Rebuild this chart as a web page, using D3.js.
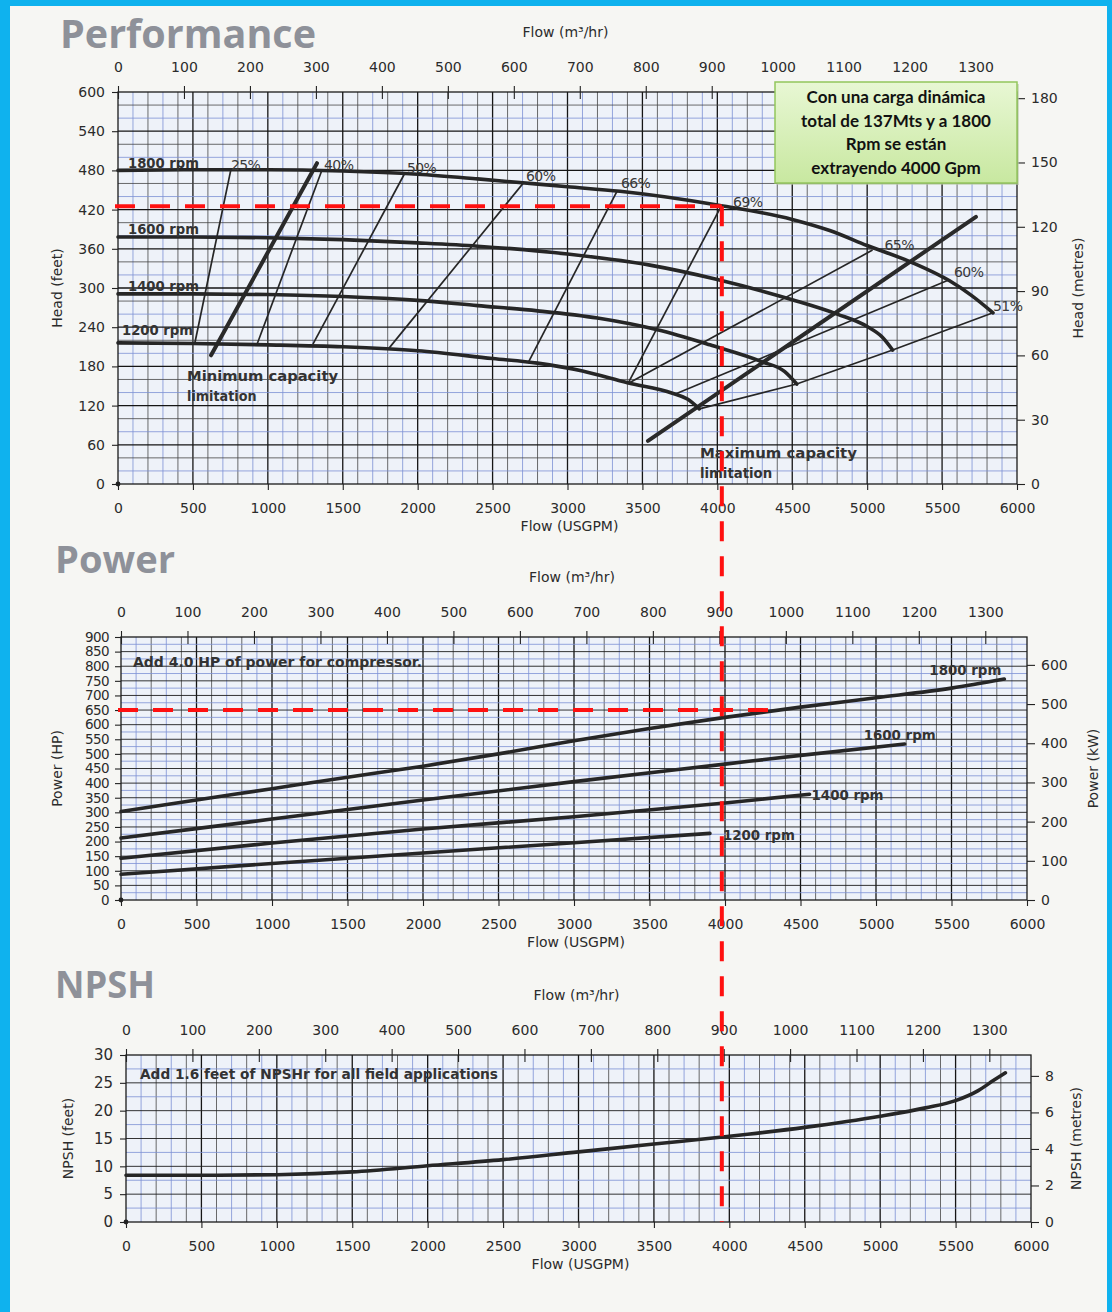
<!DOCTYPE html>
<html>
<head>
<meta charset="utf-8">
<script src="https://cdn.jsdelivr.net/npm/d3@7"></script>
<style>
body { margin: 0; background: #f6f6f3; }
svg { display: block; }
text { font-family: "DejaVu Sans", sans-serif; fill: #2b2b2b; }
.tick text { font-size: 14px; fill: #2b2b2b; }
.title { font-family: "Open Sans", sans-serif; font-weight: 700; fill: #8e9199; }
.axis-title { font-size: 14px; }
.note { font-weight: 700; font-size: 14px; fill: #333; }
.eff { font-size: 14px; fill: #3a3a3a; letter-spacing: -0.6px; }
.box text { font-family: Lato, sans-serif; font-weight: 700; font-size: 17px; fill: #111; }
</style>
</head>
<body>
<svg id="chart" width="1112" height="1312"></svg>
<script>
// ---- data (flow in USGPM, head / NPSH in feet, power in HP) ----
const gpmTicks = d3.range(0, 6001, 500);
const m3hTicks = d3.range(0, 1301, 100);
const headTicks = d3.range(0, 601, 60);
const headMetreTicks = [0, 30, 60, 90, 120, 150, 180];
const powerTicks = d3.range(0, 901, 50);
const kwTicks = [0, 100, 200, 300, 400, 500, 600];
const npshTicks = [0, 5, 10, 15, 20, 25, 30];
const npshMetreTicks = [0, 2, 4, 6, 8];

const rpmNames = ["1800 rpm", "1600 rpm", "1400 rpm", "1200 rpm"];

const head1800 = [[0,480],[500,481],[1000,481],[1500,479],[2000,474],[2400,467],[3000,455],[3350,448],[4000,427],[4500,405],[4750,388],[5000,365],[5300,339],[5550,311],[5700,288],[5840,262]];
const head1600 = [[0,378],[500,378],[1000,377],[1500,374],[2000,369],[2400,364],[3000,352],[3550,335],[4000,313],[4500,282],[4800,260],[5000,241],[5100,225],[5170,205]];
const head1400 = [[0,291],[500,291],[1000,290],[1500,287],[2000,281],[2400,273],[2800,265],[3200,254],[3600,236],[3950,213],[4300,187],[4450,172],[4530,153]];
const head1200 = [[0,216],[500,215],[1000,213],[1500,210],[2000,204],[2500,192],[2800,185],[3100,173],[3400,155],[3700,139],[3800,130],[3880,115]];

const effLabels = ["25%", "40%", "50%", "60%", "66%", "69%", "65%", "60%", "51%"];
const effLines = [
  [[514,217],[754,482]],
  [[928,214],[1362,481]],
  [[1301,214],[1915,476]],
  [[1809,208],[2710,462]],
  [[2736,185],[3330,448]],
  [[3404,154],[4025,425]],
  [[3404,154],[5036,358]],
  [[3724,138],[5540,312]],
  [[3880,115],[4530,153],[5170,205],[5840,262]]
];
const minCapacity = [[621,197],[1328,491]];
const maxCapacity = [[3537,66],[5726,409]];

const power1800 = [[0,303],[500,342],[1000,381],[1500,420],[2000,458],[2500,500],[3000,545],[3500,587],[4000,625],[4500,660],[5000,692],[5500,725],[5850,756]];
const power1600 = [[0,212],[1000,277],[2000,342],[3000,405],[4000,465],[4500,495],[5190,534]];
const power1400 = [[0,143],[1000,195],[2000,243],[3000,285],[4000,332],[4560,362]];
const power1200 = [[0,88],[1000,125],[2000,161],[3000,196],[3900,228]];

const npshCurve = [[0,8.4],[500,8.4],[1000,8.5],[1500,9.0],[2000,10.1],[2500,11.2],[3000,12.6],[3500,14.0],[4000,15.4],[4500,17.0],[5000,19.0],[5300,20.5],[5500,21.8],[5650,23.6],[5750,25.4],[5830,26.8]];

// operating point marked in red
const opFlow = 4030, opHead = 425, opPower = 650, opPowerEnd = 4320;

const boxLines = ["Con una carga dinámica", "total de 137Mts y a 1800", "Rpm se están", "extrayendo 4000 Gpm"];

const GPM_TO_M3H = 0.227125, FT_TO_M = 0.3048, HP_TO_KW = 0.7457;

const svg = d3.select("#chart");

// cyan frame
svg.append("rect").attr("x", 0).attr("y", 0).attr("width", 10).attr("height", 1312).attr("fill", "#0fb2ee");
svg.append("rect").attr("x", 0).attr("y", 0).attr("width", 1112).attr("height", 6).attr("fill", "#0fb2ee");
svg.append("rect").attr("x", 1107).attr("y", 0).attr("width", 5).attr("height", 1312).attr("fill", "#0fb2ee");

function panel(p) {
  const x = d3.scaleLinear().domain([0, 6000]).range([p.left, p.right]);
  const y = d3.scaleLinear().domain([0, p.yMax]).range([p.bottom, p.top]);
  const g = svg.append("g");

  g.append("rect")
    .attr("x", p.left).attr("y", p.top)
    .attr("width", p.right - p.left).attr("height", p.bottom - p.top)
    .attr("fill", "#eef2f9");

  // graph paper
  g.selectAll(null).data(d3.range(100, 6000, 100)).enter().append("line")
    .attr("x1", d => x(d)).attr("x2", d => x(d))
    .attr("y1", p.top).attr("y2", p.bottom)
    .attr("stroke", d => d % 500 === 0 ? "#151515" : (d / 100) % 2 ? "#7c90d4" : "#454545")
    .attr("stroke-width", d => d % 500 === 0 ? 1.3 : 0.8);

  g.selectAll(null).data(d3.range(p.step, p.yMax, p.step)).enter().append("line")
    .attr("x1", p.left).attr("x2", p.right)
    .attr("y1", d => y(d)).attr("y2", d => y(d))
    .attr("stroke", d => p.lineColor(d))
    .attr("stroke-width", d => p.lineWidth(d));

  g.append("rect")
    .attr("x", p.left).attr("y", p.top)
    .attr("width", p.right - p.left).attr("height", p.bottom - p.top)
    .attr("fill", "none").attr("stroke", "#1a1a1a").attr("stroke-width", 1.3);

  const fmt = d3.format("d");
  // bottom axis (USGPM)
  const ax = g.append("g").attr("transform", `translate(0,${p.bottom})`)
    .call(d3.axisBottom(x).tickValues(gpmTicks).tickFormat(fmt).tickSize(6).tickPadding(13));
  // top axis (m3/hr)
  const xm = d3.scaleLinear().domain([0, 6000 * GPM_TO_M3H]).range([p.left, p.right]);
  const at = g.append("g").attr("transform", `translate(0,${p.top})`)
    .call(d3.axisTop(xm).tickValues(m3hTicks).tickFormat(fmt).tickSize(6).tickPadding(14));
  at.selectAll(".tick line").attr("y1", 7).attr("y2", -6);
  // left axis
  const al = g.append("g").attr("transform", `translate(${p.left},0)`)
    .call(d3.axisLeft(y).tickValues(p.ticks).tickFormat(fmt).tickSize(6).tickPadding(p.leftPad));
  // right axis (metric)
  const yr = d3.scaleLinear().domain([0, p.yMax * p.toMetric]).range([p.bottom, p.top]);
  const ar = g.append("g").attr("transform", `translate(${p.right},0)`)
    .call(d3.axisRight(yr).tickValues(p.rightTicks).tickFormat(fmt).tickSize(8).tickPadding(6));

  [ax, at, al, ar].forEach(a => {
    a.select(".domain").remove();
    a.selectAll(".tick line").attr("stroke", "#222").attr("stroke-width", 1.1);
    a.attr("font-family", null).attr("font-size", null);
  });
  if (p.leftLabelStyle) p.leftLabelStyle(al.selectAll(".tick text"));

  g.append("circle").attr("cx", p.left).attr("cy", p.bottom).attr("r", 2.4).attr("fill", "#222");

  // titles
  g.append("text").attr("class", "title")
    .attr("x", p.titleX).attr("y", p.titleY)
    .attr("font-size", p.titleSize)
    .attr("textLength", p.titleWidth).attr("lengthAdjust", "spacingAndGlyphs")
    .text(p.title);
  g.append("text").attr("class", "axis-title").attr("text-anchor", "middle")
    .attr("x", (p.left + p.right) / 2 - 2).attr("y", p.top - 55)
    .text("Flow (m³/hr)");
  g.append("text").attr("class", "axis-title").attr("text-anchor", "middle")
    .attr("x", (p.left + p.right) / 2 + 2).attr("y", p.bottom + 47)
    .text("Flow (USGPM)");
  g.append("text").attr("class", "axis-title").attr("text-anchor", "middle")
    .attr("transform", `translate(${p.leftTitleX},${(p.top + p.bottom) / 2}) rotate(-90)`)
    .text(p.leftTitle);
  g.append("text").attr("class", "axis-title").attr("text-anchor", "middle")
    .attr("transform", `translate(${p.rightTitleX},${(p.top + p.bottom) / 2}) rotate(-90)`)
    .text(p.rightTitle);

  return { x, y, g };
}

// ---------------- Performance ----------------
const perf = panel({
  left: 118, right: 1017, top: 92, bottom: 484, yMax: 600, step: 20,
  lineColor: d => d % 60 === 0 ? "#151515" : d % 60 === 20 ? "#7c90d4" : "#454545",
  lineWidth: d => d % 60 === 0 ? 1.3 : 0.8,
  ticks: headTicks, leftPad: 7, toMetric: FT_TO_M, rightTicks: headMetreTicks,
  title: "Performance", titleX: 60, titleY: 48, titleSize: 40, titleWidth: 256,
  leftTitle: "Head (feet)", leftTitleX: 62, rightTitle: "Head (metres)", rightTitleX: 1083
});

const lineGen = (sc, curve) => d3.line().x(d => sc.x(d[0])).y(d => sc.y(d[1])).curve(curve);
const smooth = lineGen(perf, d3.curveMonotoneX);
const straight = lineGen(perf, d3.curveLinear);

perf.g.selectAll(null).data(effLines).enter().append("path")
  .attr("d", straight).attr("fill", "none")
  .attr("stroke", "#262626").attr("stroke-width", 1.7);

[minCapacity, maxCapacity].forEach(c => {
  perf.g.append("path").attr("d", straight(c)).attr("fill", "none")
    .attr("stroke", "#2a2a2a").attr("stroke-width", 4).attr("stroke-linecap", "round");
});

const heads = [head1800, head1600, head1400, head1200];
perf.g.selectAll(null).data(heads).enter().append("path")
  .attr("d", smooth).attr("fill", "none")
  .attr("stroke", "#262626").attr("stroke-width", 3.6).attr("stroke-linecap", "round");

const rpmNudge = [[10, -2], [10, -3], [10, -3], [4, -8]];
heads.forEach((h, i) => {
  perf.g.append("text").attr("class", "note")
    .attr("x", perf.x(h[0][0]) + rpmNudge[i][0])
    .attr("y", perf.y(h[0][1]) + rpmNudge[i][1])
    .attr("textLength", 71).attr("lengthAdjust", "spacingAndGlyphs")
    .text(rpmNames[i]);
});

const effNudge = [[0, 1], [2, 0], [2, 0], [2, -1], [4, -3], [12, 1], [12, 0], [6, -3], [0, -2]];
effLines.forEach((l, i) => {
  const top = l[l.length - 1];
  perf.g.append("text").attr("class", "eff")
    .attr("x", perf.x(top[0]) + effNudge[i][0])
    .attr("y", perf.y(top[1]) + effNudge[i][1])
    .text(effLabels[i]);
});

const capText = [
  { at: minCapacity[0], dx: -24, dy: 26, lines: ["Minimum capacity", "limitation"], w: 151 },
  { at: maxCapacity[0], dx: 52, dy: 17, lines: ["Maximum capacity", "limitation"], w: 157 }
];
capText.forEach(c => {
  c.lines.forEach((t, j) => {
    perf.g.append("text").attr("class", "note").attr("font-size", 14.5)
      .attr("x", perf.x(c.at[0]) + c.dx)
      .attr("y", perf.y(c.at[1]) + c.dy + j * 20)
      .attr("textLength", j === 0 ? c.w : c.w * 0.46).attr("lengthAdjust", "spacingAndGlyphs")
      .text(t);
  });
});

// ---------------- Power ----------------
const pow = panel({
  left: 121, right: 1027, top: 637, bottom: 900, yMax: 900, step: 25,
  lineColor: d => d % 50 === 0 ? "#1d1d1d" : "#7c90d4",
  lineWidth: d => d % 50 === 0 ? 0.9 : 0.8,
  ticks: powerTicks, leftPad: 6, toMetric: HP_TO_KW, rightTicks: kwTicks,
  title: "Power", titleX: 55, titleY: 573, titleSize: 38, titleWidth: 120,
  leftTitle: "Power (HP)", leftTitleX: 62, rightTitle: "Power (kW)", rightTitleX: 1098,
  leftLabelStyle: s => s.style("font-size", "13.5px").style("letter-spacing", "-0.6px")
});

const powSmooth = lineGen(pow, d3.curveMonotoneX);
const powers = [power1800, power1600, power1400, power1200];
pow.g.selectAll(null).data(powers).enter().append("path")
  .attr("d", powSmooth).attr("fill", "none")
  .attr("stroke", "#262626").attr("stroke-width", 3.6).attr("stroke-linecap", "round");

const powLabelPos = [["end", -3, -4], ["middle", -5, -4], ["start", 2, 6], ["start", 13, 7]];
powers.forEach((p, i) => {
  const e = p[p.length - 1];
  pow.g.append("text").attr("class", "note")
    .attr("text-anchor", powLabelPos[i][0])
    .attr("x", pow.x(e[0]) + powLabelPos[i][1])
    .attr("y", pow.y(e[1]) + powLabelPos[i][2])
    .attr("textLength", 72).attr("lengthAdjust", "spacingAndGlyphs")
    .text(rpmNames[i]);
});

pow.g.append("text").attr("class", "note")
  .attr("x", pow.x(0) + 12).attr("y", pow.y(900) + 30)
  .attr("textLength", 289).attr("lengthAdjust", "spacingAndGlyphs")
  .text("Add 4.0 HP of power for compressor.");

// ---------------- NPSH ----------------
const np = panel({
  left: 126, right: 1031, top: 1055, bottom: 1222, yMax: 30, step: 2.5,
  lineColor: d => d % 5 === 0 ? "#1d1d1d" : "#7c90d4",
  lineWidth: d => d % 5 === 0 ? 0.9 : 0.8,
  ticks: npshTicks, leftPad: 7, toMetric: FT_TO_M, rightTicks: npshMetreTicks,
  title: "NPSH", titleX: 55, titleY: 998, titleSize: 38, titleWidth: 100,
  leftTitle: "NPSH (feet)", leftTitleX: 73, rightTitle: "NPSH (metres)", rightTitleX: 1081,
  leftLabelStyle: s => s.style("font-size", "15px")
});

np.g.append("path").attr("d", lineGen(np, d3.curveMonotoneX)(npshCurve))
  .attr("fill", "none").attr("stroke", "#262626").attr("stroke-width", 3.6)
  .attr("stroke-linecap", "round");

np.g.append("text").attr("class", "note")
  .attr("x", np.x(0) + 14).attr("y", np.y(30) + 24)
  .attr("textLength", 358).attr("lengthAdjust", "spacingAndGlyphs")
  .text("Add 1.6 feet of NPSHr for all field applications");

// ---------------- red operating-point lines ----------------
const red = svg.append("g").attr("stroke", "#ff1010").attr("stroke-width", 4)
  .attr("stroke-dasharray", "20,15").attr("fill", "none");
red.append("line")
  .attr("x1", perf.x(0) - 3).attr("x2", perf.x(opFlow))
  .attr("y1", perf.y(opHead)).attr("y2", perf.y(opHead));
red.append("line")
  .attr("x1", perf.x(opFlow)).attr("x2", perf.x(opFlow))
  .attr("y1", perf.y(opHead)).attr("y2", np.y(0));
red.append("line")
  .attr("x1", pow.x(0) - 3).attr("x2", pow.x(opPowerEnd))
  .attr("y1", pow.y(opPower)).attr("y2", pow.y(opPower));

// ---------------- note box ----------------
const defs = svg.append("defs");
const grad = defs.append("linearGradient").attr("id", "boxFill")
  .attr("x1", 0).attr("y1", 0).attr("x2", 0).attr("y2", 1);
grad.append("stop").attr("offset", "0%").attr("stop-color", "#e8f7d4");
grad.append("stop").attr("offset", "100%").attr("stop-color", "#c8e8a0");

const box = svg.append("g").attr("class", "box");
const bx = perf.x(6000) - 242, by = perf.y(600) - 10;
box.append("rect").attr("x", bx + 2).attr("y", by + 2).attr("width", 242).attr("height", 101)
  .attr("fill", "#b9c9a6").attr("opacity", 0.6);
box.append("rect").attr("x", bx).attr("y", by).attr("width", 242).attr("height", 101)
  .attr("fill", "url(#boxFill)").attr("stroke", "#93c65c").attr("stroke-width", 1.5);
boxLines.forEach((t, i) => {
  box.append("text").attr("text-anchor", "middle")
    .attr("x", bx + 121).attr("y", by + 21 + i * 23.7)
    .text(t);
});
</script>
</body>
</html>
